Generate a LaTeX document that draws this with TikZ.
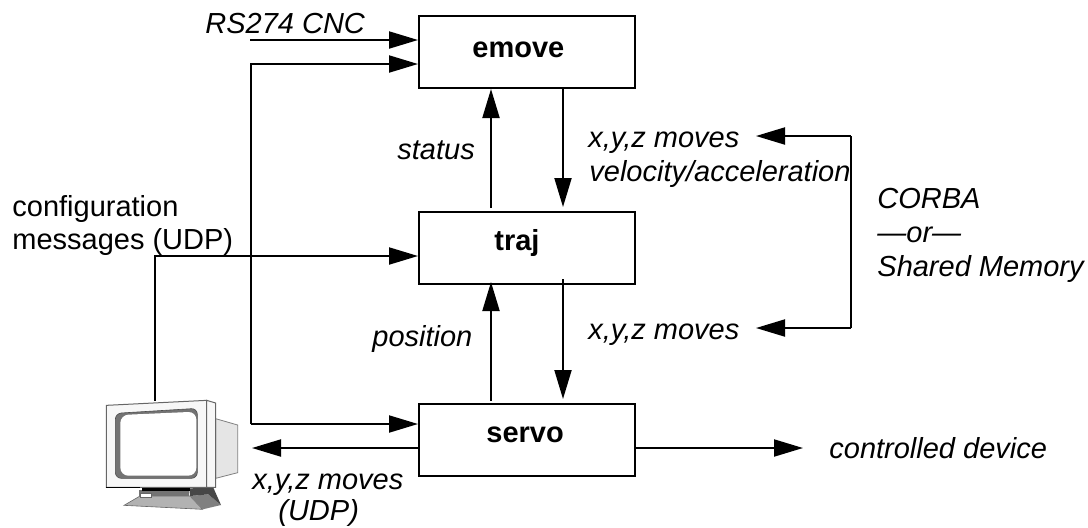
\documentclass[tikz,border=0pt]{standalone}
\usepackage{fontspec}
\setmainfont{Liberation Sans}
\usetikzlibrary{arrows.meta}
\tikzset{
  blockbox/.style={draw=black,line width=1pt,minimum width=108pt,minimum height=36pt,inner sep=0pt,outer sep=0pt,fill=white},
  blocklabel/.style={anchor=base west,inner sep=0pt,font=\fontsize{14.5}{16}\selectfont\bfseries},
  itlabel/.style={anchor=base west,inner sep=0pt,font=\fontsize{14.5}{16}\selectfont\itshape},
  uplabel/.style={anchor=base west,inner sep=0pt,font=\fontsize{14.5}{16}\selectfont},
  flow/.style={draw=black,line width=1pt,-{Triangle[length=14.5pt,width=8.5pt]}},
  plainline/.style={draw=black,line width=1pt},
}
\begin{document}
\begin{tikzpicture}[x=.5pt,y=-.5pt]
\useasboundingbox (0,0) rectangle (1088,527);
% monitor (zoom-frame coordinates)
\begin{scope}[shift={(60,370)},x=.16667pt,y=-.16667pt]
  \fill[fill=black!30,draw=black!60,line width=.3pt] (192,406) -- (240,378) -- (390,378) -- (428,418) -- cycle;
  \fill[fill=black!50] (390,378) -- (445,373) -- (483,405) -- (428,418) -- cycle;
  \fill[fill=black!72] (388,355) -- (460,353) -- (483,405) -- (445,373) -- (390,378) -- cycle;
  \fill[fill=black!55] (238,360) rectangle (388,378);
  \fill[fill=black] (245,353) rectangle (390,362);
  \fill[fill=white,draw=black!60,line width=.3pt] (242,371) rectangle (275,382);
  \filldraw[fill=black!10,draw=black!50,line width=.4pt] (467,146) -- (533,165) -- (533,308) -- (467,325) -- cycle;
  \filldraw[fill=black!3,draw=black!60,line width=.5pt] (139,106) -- (440,91) -- (440,352) -- (139,352) -- cycle;
  \filldraw[fill=black!3,draw=black!60,line width=.5pt] (440,91) -- (467,99) -- (467,352) -- (440,352) -- cycle;
  \draw[black,line width=.6pt] (139,353) -- (240,353);
  \filldraw[fill=black!55,draw=black!70,line width=.3pt,rounded corners=3pt] (166,130) -- (412,115) -- (412,325) -- (166,325) -- cycle;
  \fill[fill=white,rounded corners=4pt] (181,135) -- (409,125) -- (409,317) -- (181,317) -- cycle;
\end{scope}
% blocks
\node[blockbox] (emove) at (527,52) {};
\node[blockbox] (traj) at (527,248) {};
\node[blockbox] (servo) at (527,440) {};
\node[blocklabel] (emovet) at (472,57) {emove};
\node[blocklabel] (trajt) at (494,250) {traj};
\node[blocklabel] (servot) at (486,442) {servo};
% connector ends
\coordinate (rsstart) at (250,40);
\coordinate (rstip) at (418,40);
\coordinate (loopA) at (251,64);
\coordinate (loopB) at (251,424);
\coordinate (emoveIn) at (418,64);
\coordinate (servoIn) at (418,424);
\coordinate (monTop) at (155,401);
\coordinate (cfgCorner) at (155,256);
\coordinate (trajIn) at (418,256);
\coordinate (stStart) at (491,208);
\coordinate (stTip) at (491,89);
\coordinate (mvStart) at (563,88);
\coordinate (mvTip) at (563,207);
\coordinate (m2Start) at (563,279);
\coordinate (m2Tip) at (563,399);
\coordinate (posStart) at (491,401);
\coordinate (posTip) at (491,282);
\coordinate (brTopTip) at (756,136);
\coordinate (brTop) at (851,136);
\coordinate (brBot) at (851,328);
\coordinate (brBotTip) at (756,328);
\coordinate (devOut) at (635,448);
\coordinate (devTip) at (803,448);
\coordinate (udpStart) at (419,448);
\coordinate (udpTip) at (252,448);
% connectors
\draw[flow] (rsstart) -- (rstip);
\draw[flow] (loopB) -- (loopA) -- (emoveIn);
\draw[flow] (loopB) -- (servoIn);
\draw[flow] (monTop) -- (cfgCorner) -- (trajIn);
\draw[flow] (stStart) -- (stTip);
\draw[flow] (mvStart) -- (mvTip);
\draw[flow] (m2Start) -- (m2Tip);
\draw[flow] (posStart) -- (posTip);
\draw[flow] (brTop) -- (brTopTip);
\draw[flow] (brBot) -- (brBotTip);
\draw[plainline] (brTop) -- (brBot);
\draw[flow] (devOut) -- (devTip);
\draw[flow] (udpStart) -- (udpTip);
% labels
\node[itlabel] (l1) at (205,33) {RS274 CNC};
\node[itlabel] (l2) at (397,159) {status};
\node[itlabel] (l3) at (588,147) {x,y,z moves};
\node[itlabel] (l4) at (589,181) {velocity/acceleration};
\node[itlabel] (l5) at (372,346) {position};
\node[itlabel] (l6) at (588,339) {x,y,z moves};
\node[itlabel] (l7) at (877,208) {CORBA};
\node[itlabel] (l8) at (877,242) {—or—};
\node[itlabel] (l9) at (877,276) {Shared Memory};
\node[itlabel] (l10) at (829,458) {controlled device};
\node[uplabel] (l11) at (12,216) {configuration};
\node[uplabel] (l12) at (12,249) {messages (UDP)};
\node[itlabel] (l13) at (252,489) {x,y,z moves};
\node[itlabel] (l14) at (278,520) {(UDP)};
\end{tikzpicture}
\end{document}
